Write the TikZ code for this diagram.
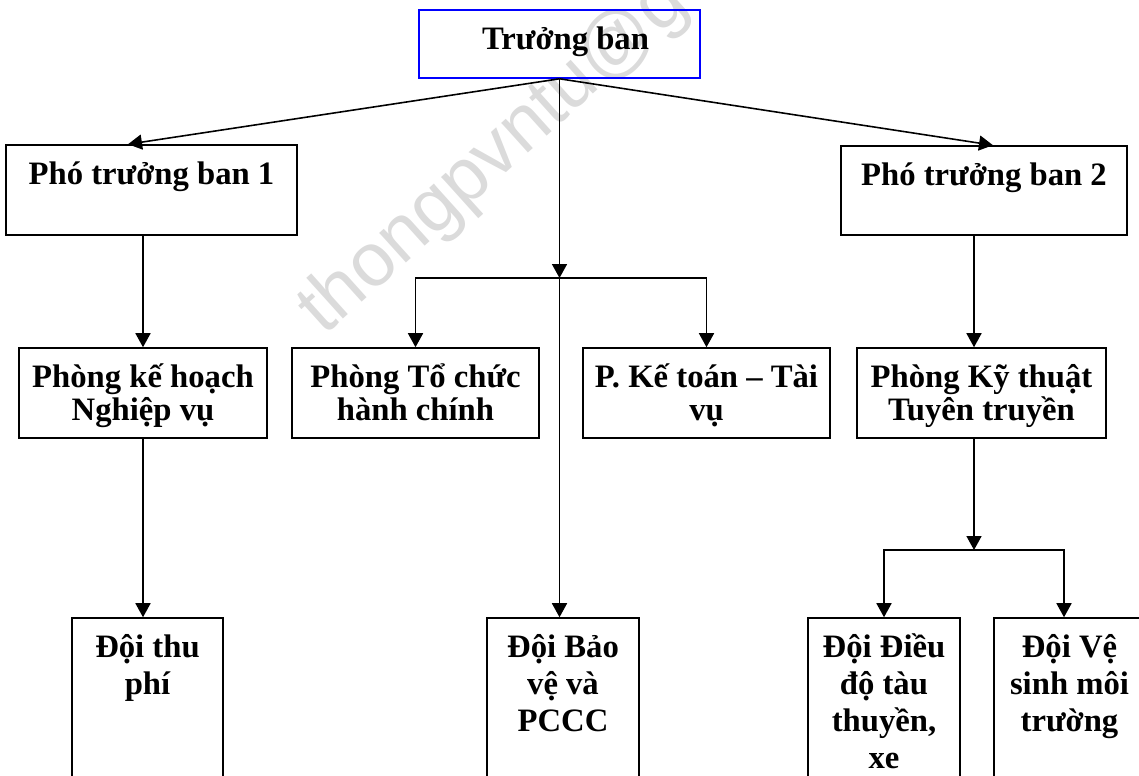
\documentclass[tikz,border=0pt]{standalone}
\usepackage{fontspec}
\setmainfont{Liberation Serif}
\newfontfamily\wmfont{Liberation Sans}
\usetikzlibrary{arrows.meta}
\usetikzlibrary{calc}
\newcommand{\boxstrut}{\rule{0pt}{0.8cm}}

\begin{document}
\begin{tikzpicture}[x=0.02cm,y=-0.02cm,
  box/.style={draw,line width=0.9pt,rectangle,inner sep=0pt},
  txt/.style={anchor=north,inner sep=0pt,align=center,font=\fontsize{18.6}{19}\selectfont\bfseries},
  txtlow/.style={txt,font=\fontsize{18.6}{21}\selectfont\bfseries},
  arr/.style={line width=0.9pt,-{Triangle[width=0.3cm,length=0.28cm]}}]
\useasboundingbox (0,0) rectangle (1139,775);
\node[font=\wmfont\fontsize{43}{43}\selectfont,text=gray!28,rotate=42,anchor=base west,inner sep=0pt] (wm) at (324,337) {thongpvntu@g};

\node[box,draw=blue,minimum width=5.62cm,minimum height=1.36cm] (tb) at (559.5,44) {};
\node[box,minimum width=5.82cm,minimum height=1.8cm] (p1) at (151.5,190) {};
\node[box,minimum width=5.72cm,minimum height=1.78cm] (p2) at (984,190.5) {};
\node[box,minimum width=4.96cm,minimum height=1.8cm] (kh) at (143,393) {};
\node[box,minimum width=4.94cm,minimum height=1.8cm] (tc) at (415.5,393) {};
\node[box,minimum width=4.94cm,minimum height=1.8cm] (kt) at (706.5,393) {};
\node[box,minimum width=4.98cm,minimum height=1.8cm] (ktt) at (981.5,393) {};
\node[box,minimum width=3.02cm,minimum height=4.04cm] (thu) at (147.5,719) {};
\node[box,minimum width=3.04cm,minimum height=4.04cm] (bv) at (563,719) {};
\node[box,minimum width=3.04cm,minimum height=4.04cm] (dd) at (884,719) {};
\node[box,minimum width=3.02cm,minimum height=4.04cm] (vs) at (1069.5,719) {};

\node[txt] (tb-t) at ([xshift=0.12cm]tb.north) {\boxstrut Trưởng ban};
\node[txt] (p1-t) at (p1.north) {\boxstrut Phó trưởng ban 1};
\node[txt] (p2-t) at (p2.north) {\boxstrut Phó trưởng ban 2};
\node[txt] (kh-t) at (kh.north) {\boxstrut Phòng kế hoạch\\Nghiệp vụ};
\node[txt] (tc-t) at (tc.north) {\boxstrut Phòng Tổ chức\\hành chính};
\node[txt] (kt-t) at (kt.north) {\boxstrut P. Kế toán – Tài\\vụ};
\node[txt] (ktt-t) at (ktt.north) {\boxstrut Phòng Kỹ thuật\\Tuyên truyền};
\node[txtlow] (thu-t) at (thu.north) {\boxstrut Đội thu\\phí};
\node[txtlow] (bv-t) at (bv.north) {\boxstrut Đội Bảo\\vệ và\\PCCC};
\node[txtlow] (dd-t) at (dd.north) {\boxstrut Đội Điều\\độ tàu\\thuyền,\\xe};
\node[txtlow] (vs-t) at (vs.north) {\boxstrut Đội Vệ\\sinh môi\\trường};

\coordinate (j1) at (559.5,278);
\coordinate (j2) at (974,550);
\draw[arr] (tb.south) -- ([xshift=-0.47cm]p1.north);
\draw[arr] (tb.south) -- ([xshift=0.18cm]p2.north);
\draw[arr] (tb.south) -- (j1);
\draw[arr] (j1) -| (tc.north);
\draw[arr] (j1) -| (kt.north);
\draw[arr] (j1) -- (j1 |- bv.north);
\draw[arr] (kh.north |- p1.south) -- (kh.north);
\draw[arr] (kh.south) -- (kh.south |- thu.north);
\draw[arr] (j2 |- p2.south) -- (j2 |- ktt.north);
\draw[arr] (ktt.south -| j2) -- (j2);
\draw[arr] (j2) -| (dd.north);
\draw[arr] (j2) -| ([xshift=-0.11cm]vs.north);

\end{tikzpicture}
\end{document}
